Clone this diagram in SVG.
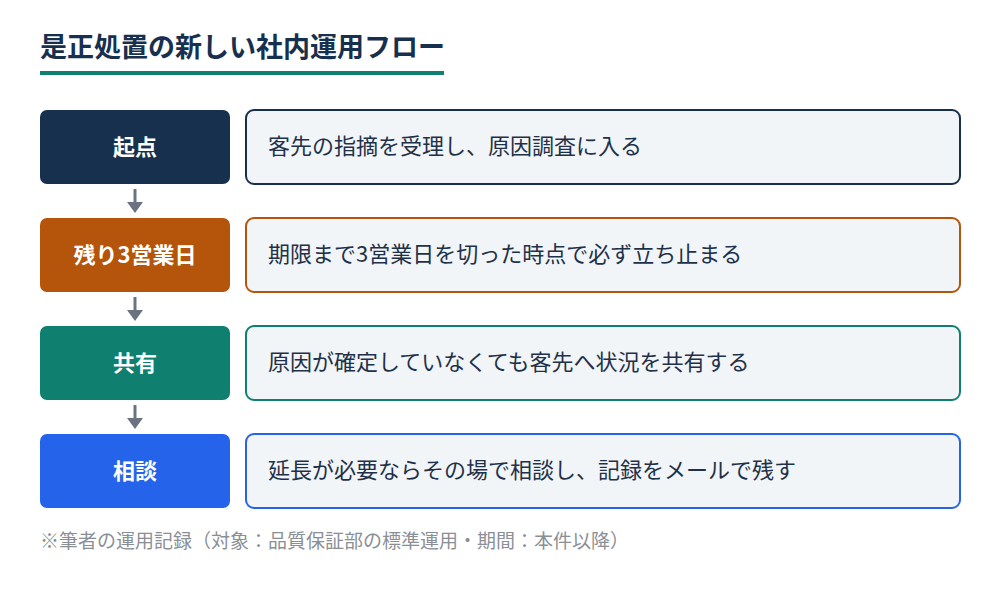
<svg xmlns="http://www.w3.org/2000/svg" width="1000" height="592" viewBox="0 0 1000 592">
  <style>
    text { font-family: "Noto Sans CJK JP", "Noto Sans", sans-serif; }
    .title { font-size: 27px; font-weight: 700; fill: #17304d; }
    .lbl { font-size: 22px; font-weight: 700; fill: #ffffff; text-anchor: middle; }
    .desc { font-size: 22px; fill: #1f3148; }
    .note { font-size: 19px; fill: #8a8f96; }
    .card { fill: #f2f5f8; stroke-width: 2; }
    .conn line { stroke: #6b7280; stroke-width: 3; }
    .conn path { fill: #6b7280; }
  </style>
  <rect width="1000" height="592" fill="#ffffff"/>
  <g id="title">
    <text class="title" x="40" y="57">是正処置の新しい社内運用フロー</text>
    <rect x="40" y="71" width="404" height="4" fill="#0f7f6f"/>
  </g>
  <g id="conn" class="conn">
    <line x1="135" y1="189" x2="135" y2="203"/>
    <path d="M127,202 L143,202 L135,213 Z"/>
    <line x1="135" y1="297" x2="135" y2="311"/>
    <path d="M127,310 L143,310 L135,321 Z"/>
    <line x1="135" y1="405" x2="135" y2="419"/>
    <path d="M127,418 L143,418 L135,429 Z"/>
  </g>
  <g id="step1">
    <rect x="40" y="110" width="190" height="74" rx="7" fill="#17304d"/>
    <text class="lbl" x="135" y="155">起点</text>
    <rect class="card" x="246" y="110" width="714" height="74" rx="8" stroke="#17304d"/>
    <text class="desc" x="268" y="154">客先の指摘を受理し、原因調査に入る</text>
  </g>
  <g id="step2">
    <rect x="40" y="218" width="190" height="74" rx="7" fill="#b5540b"/>
    <text class="lbl" x="135" y="263">残り3営業日</text>
    <rect class="card" x="246" y="218" width="714" height="74" rx="8" stroke="#b5540b"/>
    <text class="desc" x="268" y="262">期限まで3営業日を切った時点で必ず立ち止まる</text>
  </g>
  <g id="step3">
    <rect x="40" y="326" width="190" height="74" rx="7" fill="#0f7f6f"/>
    <text class="lbl" x="135" y="371">共有</text>
    <rect class="card" x="246" y="326" width="714" height="74" rx="8" stroke="#0f7f6f"/>
    <text class="desc" x="268" y="370">原因が確定していなくても客先へ状況を共有する</text>
  </g>
  <g id="step4">
    <rect x="40" y="434" width="190" height="74" rx="7" fill="#2563eb"/>
    <text class="lbl" x="135" y="479">相談</text>
    <rect class="card" x="246" y="434" width="714" height="74" rx="8" stroke="#2563eb"/>
    <text class="desc" x="268" y="478">延長が必要ならその場で相談し、記録をメールで残す</text>
  </g>
  <text class="note" x="40" y="548">※筆者の運用記録（対象：品質保証部の標準運用・期間：本件以降）</text>
</svg>
